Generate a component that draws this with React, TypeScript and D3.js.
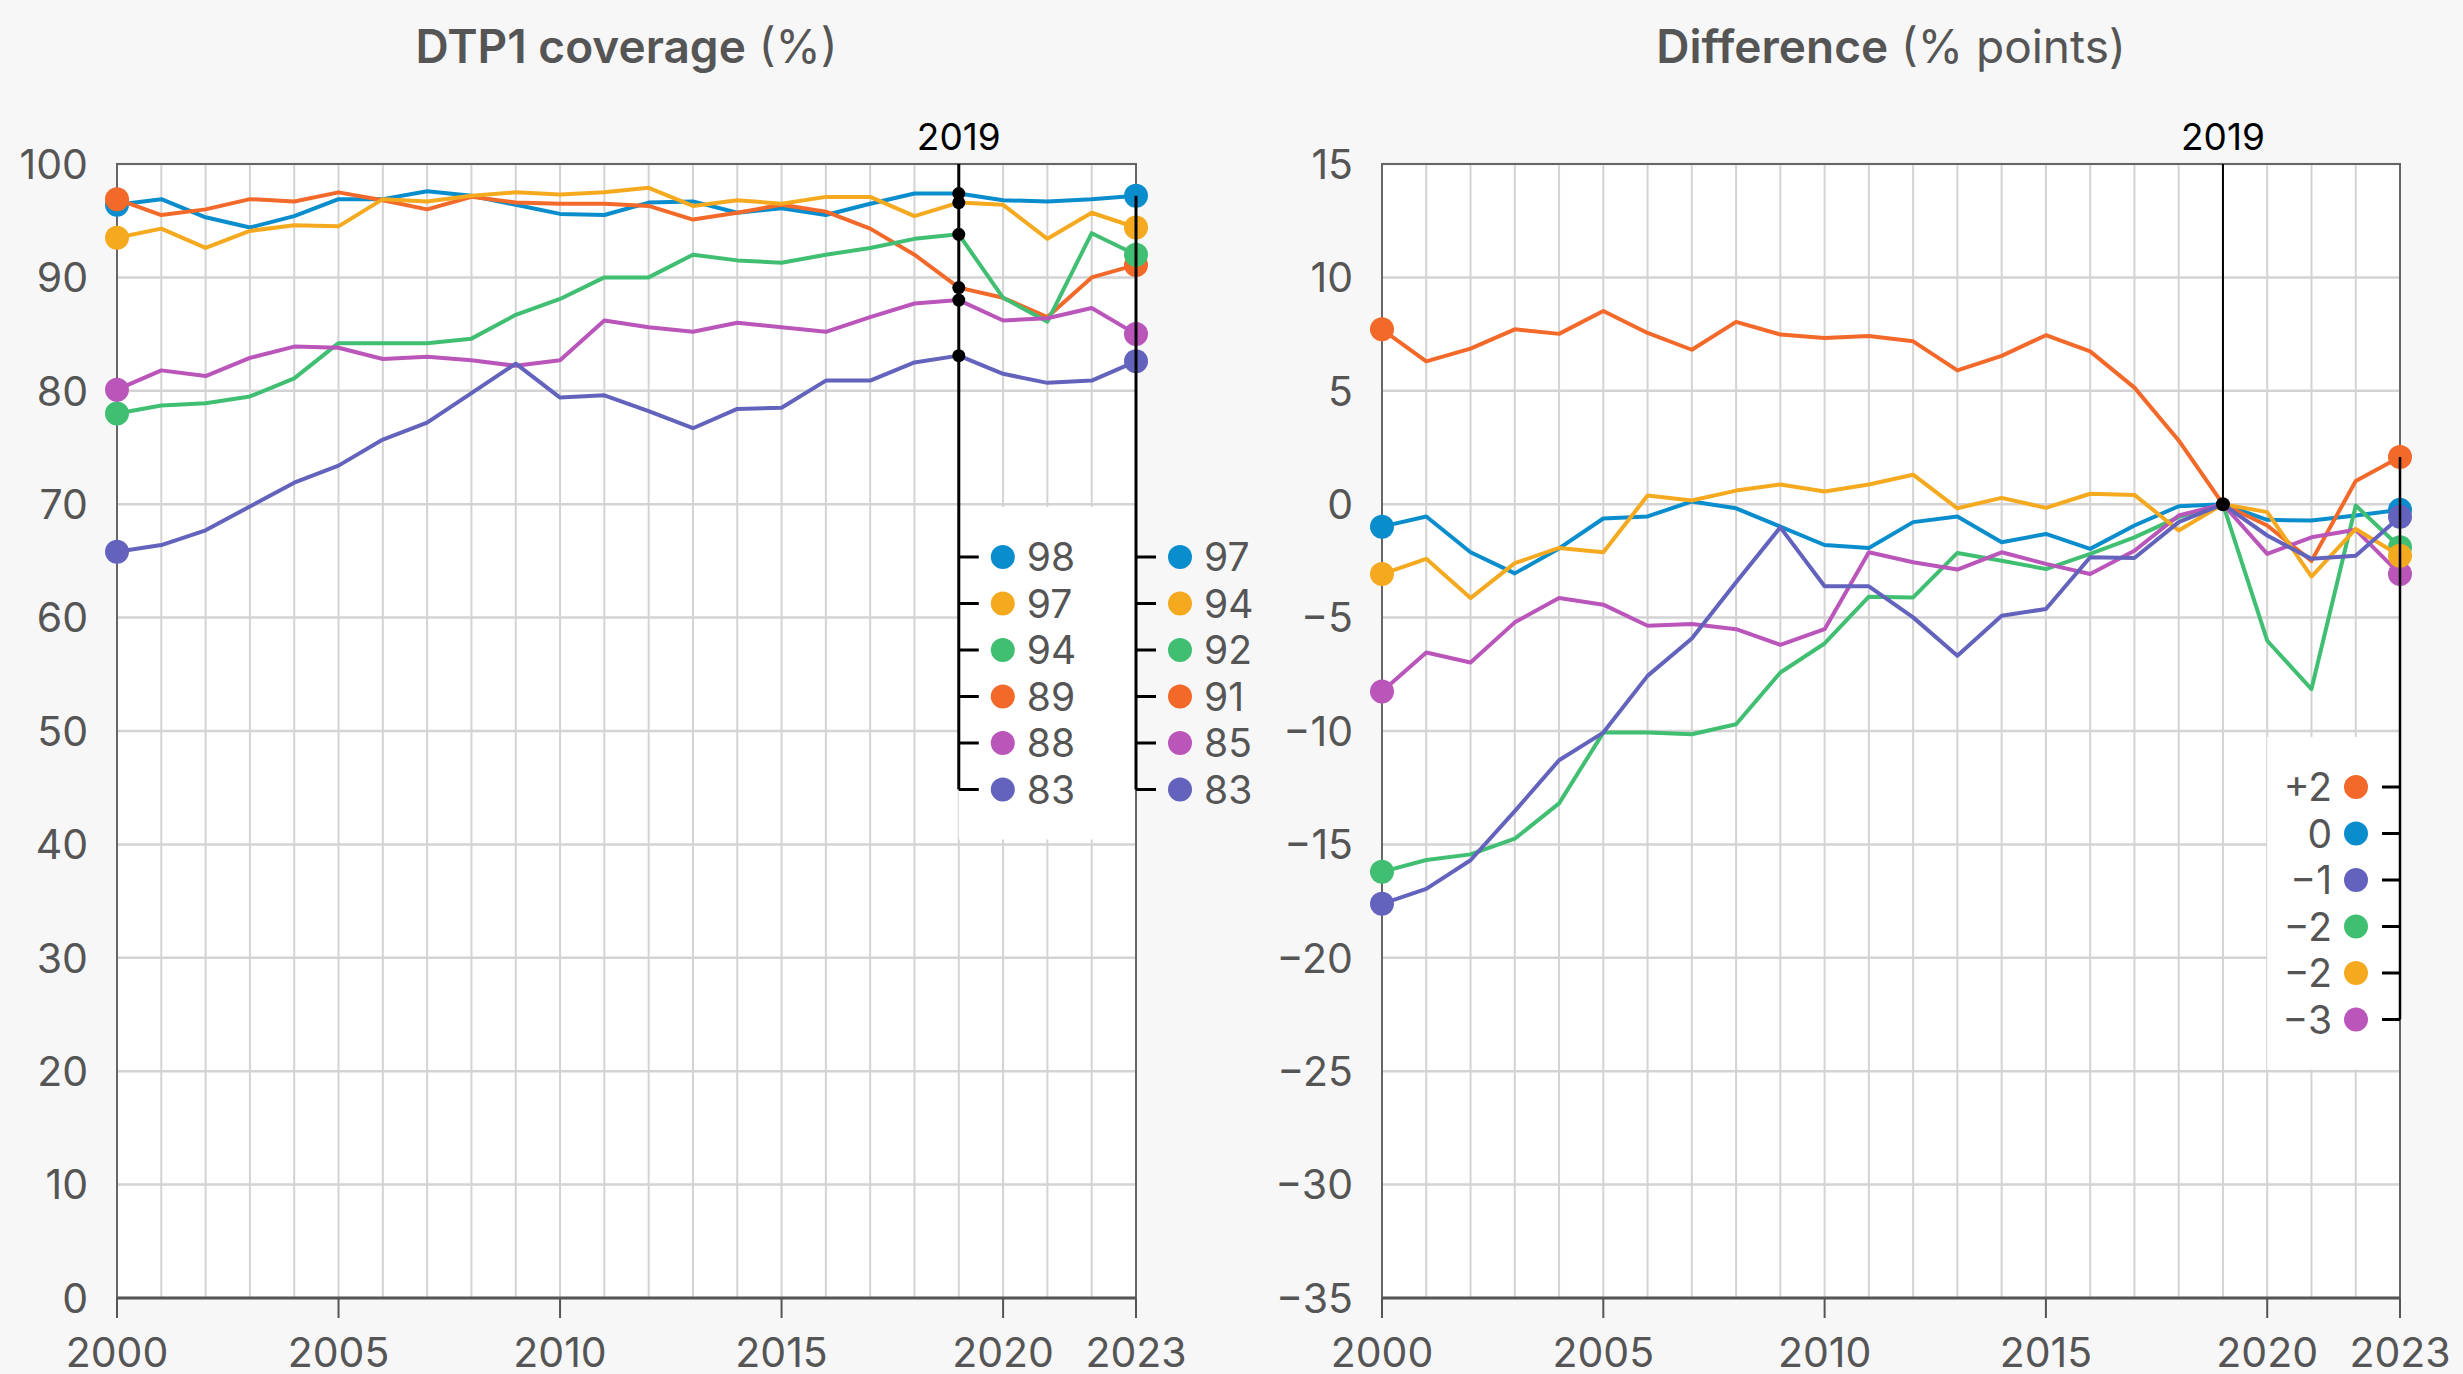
import React from "react";
import * as d3 from "d3";

// years on the x axis
const years = [
  2000, 2001, 2002, 2003, 2004, 2005, 2006, 2007, 2008, 2009, 2010, 2011,
  2012, 2013, 2014, 2015, 2016, 2017, 2018, 2019, 2020, 2021, 2022, 2023,
];
const xTickYears = [2000, 2005, 2010, 2015, 2020, 2023];

const coverageTicks = [0, 10, 20, 30, 40, 50, 60, 70, 80, 90, 100];
const coverageTickLabels = ["0", "10", "20", "30", "40", "50", "60", "70", "80", "90", "100"];
const diffTicks = [-35, -30, -25, -20, -15, -10, -5, 0, 5, 10, 15];
const diffTickLabels = ["−35", "−30", "−25", "−20", "−15", "−10", "−5", "0", "5", "10", "15"];

// DTP1 coverage (%)
const coverageBlue = [96.4, 96.9, 95.3, 94.4, 95.4, 96.9, 96.9, 97.6, 97.2, 96.4, 95.6, 95.5, 96.6, 96.7, 95.7, 96.1, 95.5, 96.5, 97.4, 97.4, 96.8, 96.7, 96.9, 97.2];
const coverageOrange = [96.9, 95.5, 96.0, 96.9, 96.7, 97.5, 96.8, 96.0, 97.1, 96.6, 96.5, 96.5, 96.3, 95.1, 95.7, 96.4, 95.8, 94.3, 92.0, 89.1, 88.2, 86.5, 90.0, 91.1];
const coverageYellow = [93.5, 94.3, 92.6, 94.1, 94.6, 94.5, 96.9, 96.7, 97.2, 97.5, 97.3, 97.5, 97.9, 96.3, 96.8, 96.5, 97.1, 97.1, 95.4, 96.6, 96.4, 93.4, 95.7, 94.4];
const coverageGreen = [78.0, 78.7, 78.9, 79.5, 81.1, 84.2, 84.2, 84.2, 84.6, 86.7, 88.1, 90.0, 90.0, 92.0, 91.5, 91.3, 92.0, 92.6, 93.4, 93.8, 88.2, 86.1, 93.9, 92.0];
const coveragePink = [80.1, 81.8, 81.3, 82.9, 83.9, 83.8, 82.8, 83.0, 82.7, 82.2, 82.7, 86.2, 85.6, 85.2, 86.0, 85.6, 85.2, 86.5, 87.7, 88.0, 86.2, 86.4, 87.3, 85.0];
const coveragePurple = [65.8, 66.4, 67.7, 69.8, 71.9, 73.4, 75.7, 77.2, 79.8, 82.4, 79.4, 79.6, 78.2, 76.7, 78.4, 78.5, 80.9, 80.9, 82.5, 83.1, 81.5, 80.7, 80.9, 82.6];

// Difference from 2019 (% points)
const diffBlue = [-0.99, -0.54, -2.12, -3.05, -1.95, -0.63, -0.54, 0.12, -0.18, -0.99, -1.8, -1.93, -0.79, -0.54, -1.68, -1.31, -1.97, -0.94, -0.09, 0, -0.69, -0.72, -0.5, -0.25];
const diffOrange = [7.71, 6.3, 6.86, 7.71, 7.51, 8.52, 7.55, 6.81, 8.04, 7.48, 7.33, 7.42, 7.18, 5.9, 6.54, 7.45, 6.74, 5.14, 2.81, 0, -0.94, -2.5, 1.02, 2.08];
const diffYellow = [-3.08, -2.41, -4.14, -2.6, -1.93, -2.12, 0.38, 0.16, 0.6, 0.87, 0.56, 0.87, 1.3, -0.18, 0.28, -0.16, 0.46, 0.41, -1.16, 0, -0.35, -3.19, -1.09, -2.27];
const diffGreen = [-16.21, -15.69, -15.44, -14.75, -13.19, -10.07, -10.07, -10.14, -9.7, -7.42, -6.14, -4.08, -4.11, -2.15, -2.49, -2.86, -2.19, -1.46, -0.57, 0, -6.02, -8.15, -0.06, -1.9];
const diffPink = [-8.26, -6.54, -6.98, -5.21, -4.14, -4.43, -5.36, -5.28, -5.51, -6.2, -5.51, -2.12, -2.56, -2.88, -2.12, -2.63, -3.08, -2.05, -0.5, 0, -2.19, -1.46, -1.13, -3.08];
const diffPurple = [-17.62, -16.96, -15.7, -13.53, -11.29, -10.07, -7.57, -5.92, -3.44, -1.02, -3.62, -3.62, -4.99, -6.68, -4.92, -4.62, -2.34, -2.37, -0.79, 0, -1.38, -2.41, -2.27, -0.55];

// legend labels
const legendKeys2019 = ["blue", "yellow", "green", "orange", "pink", "purple"];
const legendLabels2019 = ["98", "97", "94", "89", "88", "83"];
const legendLabels2023 = ["97", "94", "92", "91", "85", "83"];
const diffLegendKeys = ["orange", "blue", "purple", "green", "yellow", "pink"];
const diffLegendLabels = ["+2", "0", "−1", "−2", "−2", "−3"];

const colors: Record<string, string> = {
  blue: "#0a8dcc",
  orange: "#f2692a",
  yellow: "#f5a91f",
  green: "#40bf73",
  pink: "#ba55ba",
  purple: "#6363bd",
};

// drawing order (later on top)
const drawOrder = ["blue", "orange", "green", "pink", "yellow", "purple"];

const coverageByKey: Record<string, number[]> = {
  blue: coverageBlue, orange: coverageOrange, yellow: coverageYellow,
  green: coverageGreen, pink: coveragePink, purple: coveragePurple,
};
const diffByKey: Record<string, number[]> = {
  blue: diffBlue, orange: diffOrange, yellow: diffYellow,
  green: diffGreen, pink: diffPink, purple: diffPurple,
};

const W = 2463;
const H = 1374;
const TOP = 164;
const BOTTOM = 1298;
const ROW = 46.5;
const FONT = "Inter, 'Noto Sans', sans-serif";
const GREY = "#555";

function Frame({ x, y, ticks, tickLabels, bold, light, box }: any) {
  const [x0, x1] = x.range();
  return (
    <g>
      <rect x={x0} y={TOP} width={x1 - x0} height={BOTTOM - TOP} fill="#fff" />
      {years.map((yr) => (
        <line key={yr} x1={x(yr)} x2={x(yr)} y1={TOP} y2={BOTTOM} stroke="#d3d3d3" strokeWidth={2} />
      ))}
      {ticks.map((t: number) => (
        <line key={t} x1={x0} x2={x1} y1={y(t)} y2={y(t)} stroke="#d3d3d3" strokeWidth={2.5} />
      ))}
      {box && <rect x={box.x0} y={box.y0} width={box.x1 - box.x0} height={box.y1 - box.y0} fill="#fff" />}
      <rect x={x0} y={TOP} width={x1 - x0} height={BOTTOM - TOP} fill="none" stroke="#666" strokeWidth={2} />
      <line x1={x0} x2={x1} y1={BOTTOM} y2={BOTTOM} stroke={GREY} strokeWidth={3} />
      {xTickYears.map((yr) => (
        <g key={yr}>
          <line x1={x(yr)} x2={x(yr)} y1={BOTTOM} y2={BOTTOM + 20} stroke={GREY} strokeWidth={2} />
          <text x={x(yr)} y={1367} textAnchor="middle" fontSize={41} fill={GREY}>{yr}</text>
        </g>
      ))}
      {ticks.map((t: number, i: number) => (
        <text key={t} x={x0 - 29} y={y(t)} dy="0.36em" textAnchor="end" fontSize={41} fill={GREY}>
          {tickLabels[i]}
        </text>
      ))}
      <text x={(x0 + x1) / 2} y={63} textAnchor="middle" fontSize={46} fill={GREY}>
        <tspan fontWeight={600}>{bold}</tspan>
        <tspan fontWeight={400}>{light}</tspan>
      </text>
    </g>
  );
}

function Lines({ x, y, data }: any) {
  const line = d3.line<number>().x((_, i) => x(years[i])).y((d) => y(d));
  return (
    <g>
      {drawOrder.map((k) => (
        <g key={k}>
          <path d={line(data[k]) || ""} fill="none" stroke={colors[k]} strokeWidth={4} strokeLinejoin="round" />
          <circle cx={x(years[0])} cy={y(data[k][0])} r={12} fill={colors[k]} />
          <circle cx={x(years[23])} cy={y(data[k][23])} r={12} fill={colors[k]} />
        </g>
      ))}
    </g>
  );
}

function CoverageChart() {
  const x = d3.scaleLinear().domain([2000, 2023]).range([117, 1136]);
  const y = d3.scaleLinear().domain([0, 100]).range([BOTTOM, TOP]);
  const i19 = years.indexOf(2019);
  const rowY = (i: number) => 557 + i * ROW;
  const last = rowY(legendKeys2019.length - 1);
  const x19 = x(2019);
  const x23 = x(2023);
  const top23 = d3.min(legendKeys2019, (k) => y(coverageByKey[k][23])) as number;
  return (
    <g>
      <Frame
        x={x}
        y={y}
        ticks={coverageTicks}
        tickLabels={coverageTickLabels}
        bold="DTP1 coverage"
        light=" (%)"
        box={{ x0: x19, x1: x23, y0: rowY(0) - 50, y1: last + 50 }}
      />
      <Lines x={x} y={y} data={coverageByKey} />
      <text x={x19} y={150} textAnchor="middle" fontSize={37} fill="#000">2019</text>
      <line x1={x19} x2={x19} y1={TOP} y2={last} stroke="#000" strokeWidth={3} />
      <line x1={x23} x2={x23} y1={top23} y2={last} stroke="#000" strokeWidth={3} />
      {legendKeys2019.map((k) => (
        <circle key={k} cx={x19} cy={y(coverageByKey[k][i19])} r={6.5} fill="#000" />
      ))}
      {[
        { lx: x19, labels: legendLabels2019 },
        { lx: x23, labels: legendLabels2023 },
      ].map((col) => (
        <g key={col.lx}>
          {legendKeys2019.map((k, i) => (
            <g key={k}>
              <line x1={col.lx} x2={col.lx + 20} y1={rowY(i)} y2={rowY(i)} stroke="#000" strokeWidth={3} />
              <circle cx={col.lx + 44} cy={rowY(i)} r={12} fill={colors[k]} />
              <text x={col.lx + 68} y={rowY(i)} dy="0.36em" fontSize={39} fill={GREY}>{col.labels[i]}</text>
            </g>
          ))}
        </g>
      ))}
    </g>
  );
}

function DiffChart() {
  const x = d3.scaleLinear().domain([2000, 2023]).range([1382, 2400]);
  const y = d3.scaleLinear().domain([-35, 15]).range([BOTTOM, TOP]);
  const rowY = (i: number) => 787 + i * ROW;
  const last = rowY(diffLegendKeys.length - 1);
  const x19 = x(2019);
  const x23 = x(2023);
  const top23 = d3.min(diffLegendKeys, (k) => y(diffByKey[k][23])) as number;
  return (
    <g>
      <Frame
        x={x}
        y={y}
        ticks={diffTicks}
        tickLabels={diffTickLabels}
        bold="Difference"
        light=" (% points)"
        box={{ x0: x(2020), x1: x23, y0: rowY(0) - 50, y1: last + 50 }}
      />
      <text x={x19} y={150} textAnchor="middle" fontSize={37} fill="#000">2019</text>
      <line x1={x19} x2={x19} y1={TOP} y2={y(0)} stroke="#000" strokeWidth={2} />
      <Lines x={x} y={y} data={diffByKey} />
      <circle cx={x19} cy={y(0)} r={7} fill="#000" />
      <line x1={x23} x2={x23} y1={top23} y2={last} stroke="#000" strokeWidth={2.5} />
      {diffLegendKeys.map((k, i) => (
        <g key={k + i}>
          <line x1={x23 - 18} x2={x23} y1={rowY(i)} y2={rowY(i)} stroke="#000" strokeWidth={3} />
          <circle cx={x23 - 44} cy={rowY(i)} r={12} fill={colors[k]} />
          <text x={x23 - 68} y={rowY(i)} dy="0.36em" textAnchor="end" fontSize={39} fill={GREY}>
            {diffLegendLabels[i]}
          </text>
        </g>
      ))}
    </g>
  );
}

export default function App() {
  return (
    <div style={{ position: "fixed", left: 0, top: 0, width: W, height: H, background: "#f7f7f7" }}>
      <svg width={W} height={H} style={{ display: "block", fontFamily: FONT }}>
        <rect width={W} height={H} fill="#f7f7f7" />
        <CoverageChart />
        <DiffChart />
      </svg>
    </div>
  );
}
